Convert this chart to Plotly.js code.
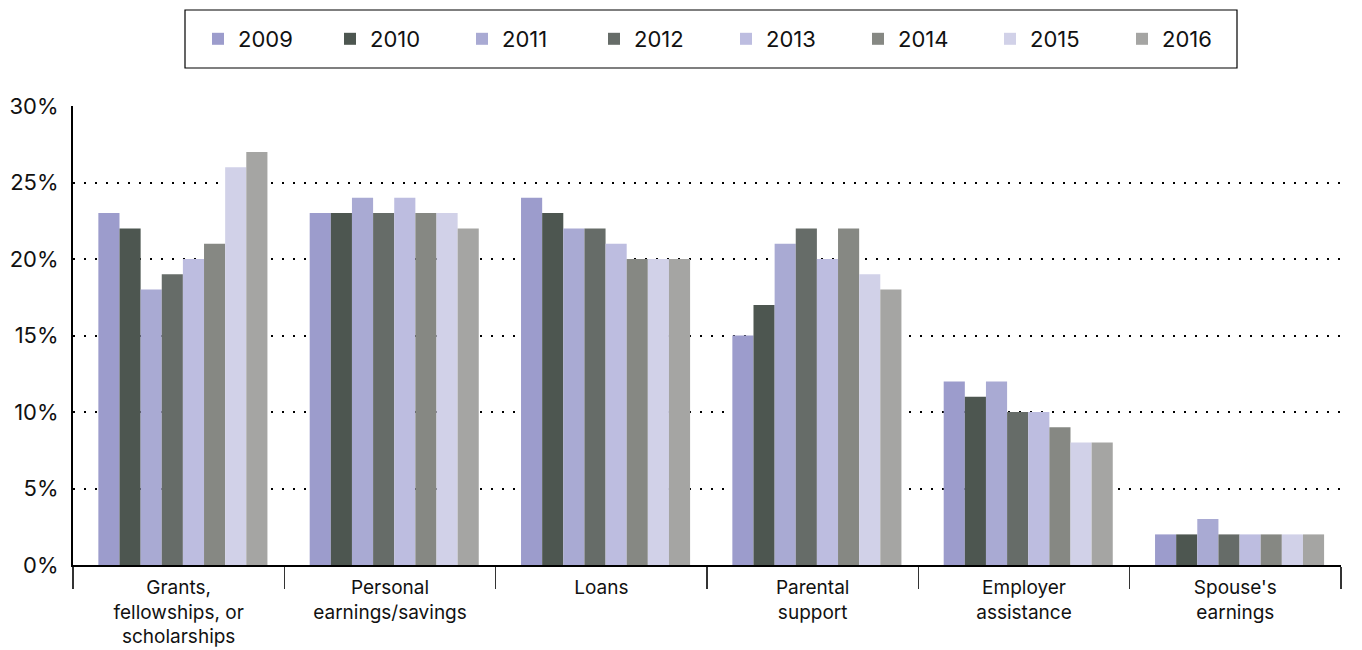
<!DOCTYPE html>
<html>
<head>
<meta charset="utf-8">
<script src="https://cdn.plot.ly/plotly-3.0.1.min.js"></script>
<style>html,body{margin:0;padding:0;background:#fff;} #chart{width:1362px;height:650px;}</style>
</head>
<body>
<div id="chart"></div>
<script>
const categories = ["Grants,<br>fellowships, or<br>scholarships", "Personal<br>earnings/savings", "Loans", "Parental<br>support", "Employer<br>assistance", "Spouse's<br>earnings"];
const years = ["2009", "2010", "2011", "2012", "2013", "2014", "2015", "2016"];
const v2009 = [23, 23, 24, 15, 12, 2];
const v2010 = [22, 23, 23, 17, 11, 2];
const v2011 = [18, 24, 22, 21, 12, 3];
const v2012 = [19, 23, 22, 22, 10, 2];
const v2013 = [20, 24, 21, 20, 10, 2];
const v2014 = [21, 23, 20, 22, 9, 2];
const v2015 = [26, 23, 20, 19, 8, 2];
const v2016 = [27, 22, 20, 18, 8, 2];
const yTicks = [0, 5, 10, 15, 20, 25, 30];
const series = [v2009, v2010, v2011, v2012, v2013, v2014, v2015, v2016];
const colors = ["#9c9ccc", "#4d5650", "#a9aad3", "#666c68", "#bdbde0", "#868883", "#d1d1e8", "#a5a5a3"];

const fontFamily = "Inter, 'Open Sans', sans-serif";
const barW = 0.1;
const traces = series.map((vals, i) => ({
  type: "bar",
  name: years[i],
  x: categories,
  y: vals.map(v => v / 100),
  width: barW,
  offset: -0.38 + i * barW,
  marker: {color: colors[i], line: {width: 0}},
  hoverinfo: "y+name"
}));

const layout = {
  width: 1362,
  height: 650,
  margin: {l: 73, r: 21, t: 106, b: 85},
  paper_bgcolor: "#fff",
  plot_bgcolor: "#fff",
  font: {family: fontFamily, size: 20, color: "#111"},
  barmode: "overlay",
  showlegend: true,
  legend: {
    orientation: "h",
    x: 726 / 1362, xanchor: "center", xref: "container",
    y: 1 - 39 / 650, yanchor: "middle", yref: "container",
    borderwidth: 0,
    bgcolor: "rgba(0,0,0,0)",
    font: {family: fontFamily, size: 22, color: "#111"},
    entrywidth: 87, entrywidthmode: "pixels",
    traceorder: "normal"
  },
  shapes: [{
    type: "rect", xref: "paper", yref: "paper",
    x0: (185 - 73) / 1268, x1: (1237 - 73) / 1268,
    y0: (565 - 68) / 459, y1: (565 - 10) / 459,
    line: {color: "#000", width: 1.2}, fillcolor: "rgba(0,0,0,0)", layer: "above"
  }],
  xaxis: {
    type: "category",
    range: [-0.5, 5.5],
    tickson: "boundaries",
    ticks: "outside",
    ticklen: 22,
    tickcolor: "#333",
    tickwidth: 1.5,
    showline: true,
    linecolor: "#000",
    linewidth: 2,
    showgrid: false,
    ticklabelstandoff: 4,
    tickfont: {family: fontFamily, size: 19, color: "#111"},
    fixedrange: true
  },
  yaxis: {
    range: [0, 0.30],
    tickvals: yTicks.map(v => v / 100),
    ticktext: yTicks.map(v => v + "%"),
    showgrid: true,
    gridcolor: "#000",
    griddash: "2px,9px",
    gridwidth: 2,
    showline: true,
    linecolor: "#000",
    linewidth: 2,
    zeroline: false,
    ticks: "",
    ticklabelstandoff: 8,
    tickfont: {family: fontFamily, size: 22, color: "#111"},
    fixedrange: true
  }
};

Plotly.newPlot("chart", traces, layout, {displayModeBar: false, staticPlot: true});
</script>
</body>
</html>
